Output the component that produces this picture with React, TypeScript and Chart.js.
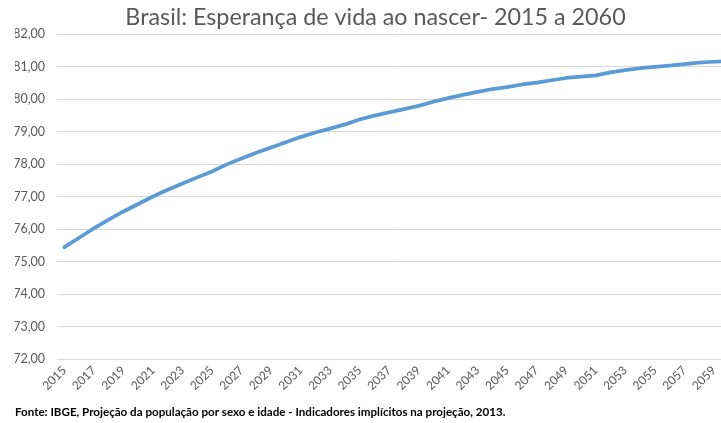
import React, { useEffect, useRef } from "react";
import { Chart, registerables } from "chart.js";

Chart.register(...registerables);

const years: string[] = [
  "2015", "2016", "2017", "2018", "2019", "2020", "2021", "2022", "2023", "2024",
  "2025", "2026", "2027", "2028", "2029", "2030", "2031", "2032", "2033", "2034",
  "2035", "2036", "2037", "2038", "2039", "2040", "2041", "2042", "2043", "2044",
  "2045", "2046", "2047", "2048", "2049", "2050", "2051", "2052", "2053", "2054",
  "2055", "2056", "2057", "2058", "2059", "2060",
];

const lifeExpectancy: number[] = [
  75.45, 75.74, 76.03, 76.3, 76.55, 76.78, 77.01, 77.22, 77.41, 77.6,
  77.78, 78.0, 78.18, 78.36, 78.52, 78.68, 78.84, 78.98, 79.1, 79.23,
  79.38, 79.5, 79.6, 79.7, 79.8, 79.93, 80.04, 80.14, 80.23, 80.32,
  80.38, 80.46, 80.52, 80.59, 80.66, 80.7, 80.74, 80.83, 80.9, 80.96,
  81.0, 81.04, 81.09, 81.13, 81.16, 81.18,
];

const yMin = 72;
const yMax = 82;
const yStep = 1;

const titleText = "Brasil: Esperança de vida ao nascer- 2015 a 2060";
const sourceText =
  "Fonte: IBGE, Projeção da população por sexo e idade - Indicadores implícitos na projeção, 2013.";

const CANVAS_W = 737;
const CANVAS_H = 423;

export default function App() {
  const canvasRef = useRef<HTMLCanvasElement | null>(null);

  useEffect(() => {
    if (!canvasRef.current) return;
    const chart = new Chart(canvasRef.current, {
      type: "line",
      data: {
        labels: years,
        datasets: [
          {
            label: "Esperança de vida",
            data: lifeExpectancy,
            borderColor: "#5B9BD5",
            backgroundColor: "#5B9BD5",
            borderWidth: 3.75,
            pointRadius: 0,
            pointHoverRadius: 0,
            tension: 0,
            borderCapStyle: "round",
            borderJoinStyle: "round",
            fill: false,
          },
        ],
      },
      options: {
        responsive: false,
        animation: false,
        layout: { padding: { left: 15, right: 1, top: 0, bottom: 0 } },
        plugins: {
          legend: { display: false },
          tooltip: { enabled: false },
          title: {
            display: true,
            text: titleText,
            color: "#595959",
            font: { family: "Lato", size: 23.3, weight: "normal", lineHeight: 1.05 },
            padding: { top: 5, bottom: 5 },
          },
          subtitle: {
            display: true,
            position: "bottom",
            align: "start",
            text: sourceText,
            color: "#000000",
            font: { family: "Lato", size: 11.6, weight: "bold", lineHeight: 1.1 },
            padding: { top: 0, bottom: 4 },
          },
        },
        scales: {
          x: {
            type: "category",
            offset: true,
            grid: { display: false, drawTicks: false },
            border: { display: false },
            ticks: {
              autoSkip: false,
              minRotation: 45,
              maxRotation: 45,
              padding: 4,
              color: "#595959",
              font: { family: "Lato", size: 12 },
              callback: function (value: any, index: number) {
                return index % 2 === 0 ? years[index] : "";
              },
            },
            afterFit: (s: any) => {
              s.height = 47;
              s.paddingLeft = 0;
              s.paddingRight = 0;
            },
          },
          y: {
            min: yMin,
            max: yMax,
            grid: { color: "#D9D9D9", lineWidth: 1, drawTicks: false },
            border: { display: false },
            ticks: {
              stepSize: yStep,
              padding: 12,
              color: "#595959",
              font: { family: "Lato", size: 12.5 },
              callback: (v: any) => Number(v).toFixed(2).replace(".", ","),
            },
            afterFit: (s: any) => {
              s.width = 42;
            },
          },
        },
      },
    });
    return () => chart.destroy();
  }, []);

  return (
    <div
      style={{
        position: "absolute",
        left: 0,
        top: 0,
        width: 721,
        height: 423,
        overflow: "hidden",
        background: "#ffffff",
      }}
    >
      <canvas
        ref={canvasRef}
        width={CANVAS_W}
        height={CANVAS_H}
        style={{ width: CANVAS_W, height: CANVAS_H, display: "block" }}
      />
    </div>
  );
}
